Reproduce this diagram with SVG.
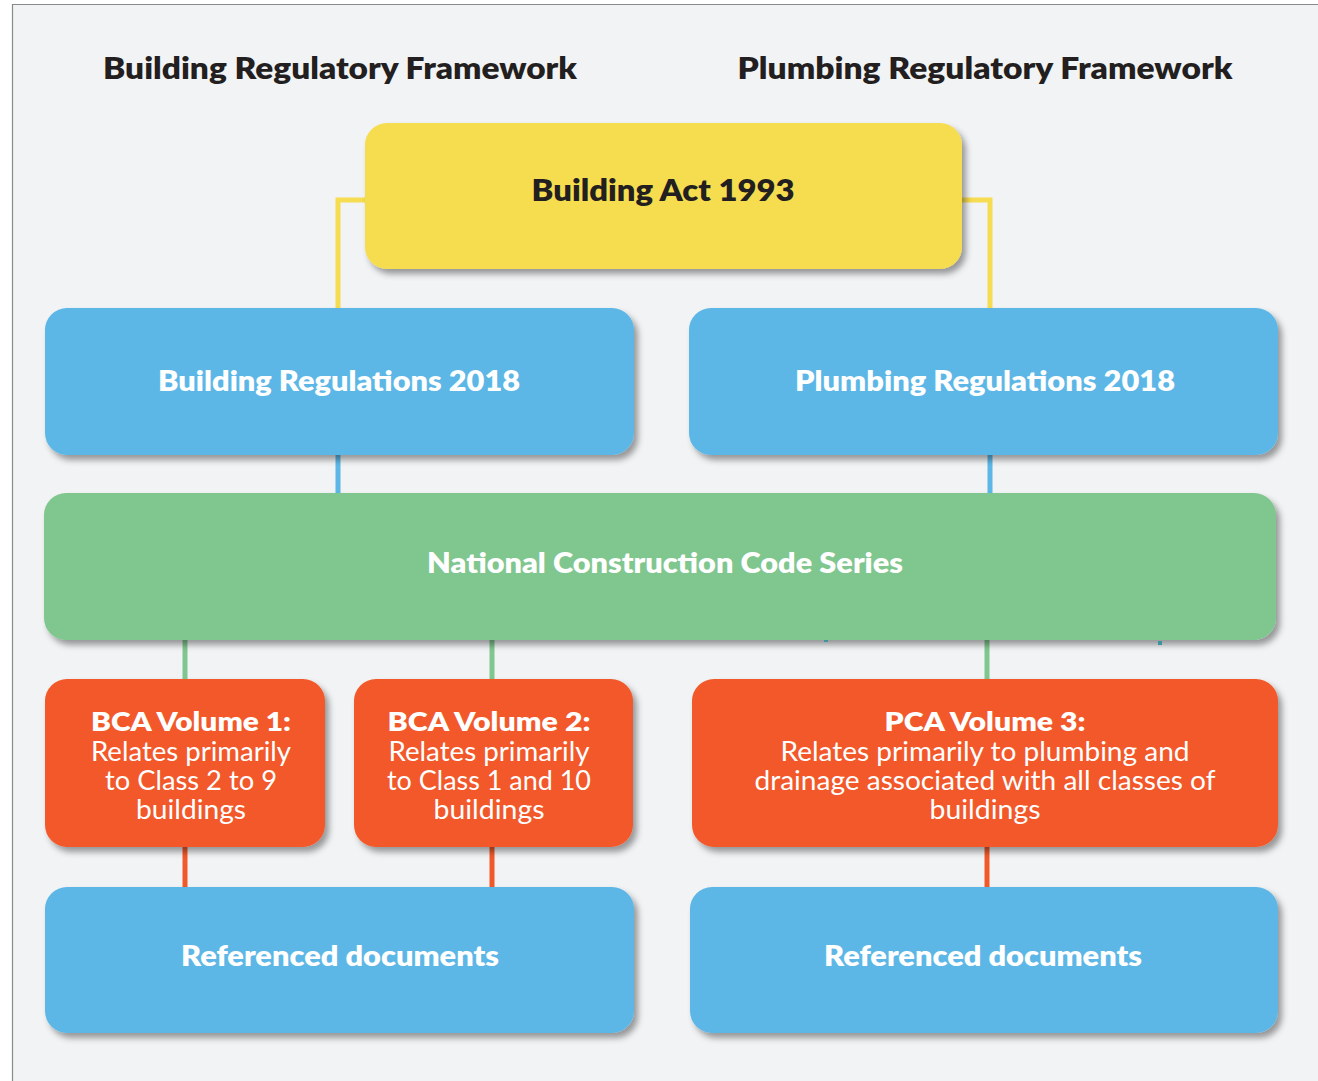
<svg xmlns="http://www.w3.org/2000/svg" width="1318" height="1081" viewBox="0 0 1318 1081">
  <defs>
    <filter id="shadow" x="-5%" y="-10%" width="115%" height="130%">
      <feDropShadow dx="4" dy="5" stdDeviation="3" flood-color="#000" flood-opacity="0.38"/>
    </filter>
  </defs>
  <style>
    .heading { font-family: Lato, "Open Sans", "Liberation Sans", sans-serif; font-weight: 800; fill: #231f20; text-anchor: middle; }
    .label { font-family: Lato, "Open Sans", "Liberation Sans", sans-serif; font-weight: 800; fill: #ffffff; text-anchor: middle; }
    .body { font-family: Lato, "Open Sans", "Liberation Sans", sans-serif; font-weight: 400; fill: #ffffff; text-anchor: middle; }
    .box { filter: url(#shadow); }
    .yellow { fill: #f6dc50; }
    .blue { fill: #5db7e6; }
    .green { fill: #80c68f; }
    .orange { fill: #f2592a; }
    .link { fill: none; stroke-width: 5; }
  </style>

  <!-- page -->
  <rect x="0" y="0" width="1318" height="1081" fill="#ffffff"/>
  <rect x="12" y="4" width="1306" height="1077" fill="#f2f3f5"/>
  <path d="M12.5 1081 V4.5 H1318" fill="none" stroke="#8a8a8a" stroke-width="1.2"/>

  <!-- column headings -->
  <text class="heading" x="340" y="79" font-size="30" textLength="474" lengthAdjust="spacingAndGlyphs">Building Regulatory Framework</text>
  <text class="heading" x="985" y="79" font-size="30" textLength="495" lengthAdjust="spacingAndGlyphs">Plumbing Regulatory Framework</text>

  <!-- connectors -->
  <g id="connectors">
    <path class="link" d="M370 200 H338 V309" stroke="#f6dc50"/>
    <path class="link" d="M958 200 H990 V309" stroke="#f6dc50"/>
    <path class="link" d="M338 450 V500" stroke="#5db7e6"/>
    <path class="link" d="M990 450 V494" stroke="#5db7e6"/>
    <path class="link" d="M185 636 V681" stroke="#80c68f"/>
    <path class="link" d="M492 636 V681" stroke="#80c68f"/>
    <path class="link" d="M987 636 V681" stroke="#80c68f"/>
    <path class="link" d="M185 843 V888" stroke="#f2592a"/>
    <path class="link" d="M492 843 V888" stroke="#f2592a"/>
    <path class="link" d="M987 843 V888" stroke="#f2592a"/>
  </g>

  <g id="building-act">
    <rect class="box yellow" x="365" y="123" width="597" height="146" rx="22"/>
    <text class="heading" x="663" y="201" font-size="30" textLength="263" lengthAdjust="spacingAndGlyphs">Building Act 1993</text>
  </g>

  <g id="building-regulations">
    <rect class="box blue" x="45" y="308" width="589" height="147" rx="22"/>
    <text class="label" x="339" y="391" font-size="28" textLength="362" lengthAdjust="spacingAndGlyphs">Building Regulations 2018</text>
  </g>

  <g id="plumbing-regulations">
    <rect class="box blue" x="689" y="308" width="589" height="147" rx="22"/>
    <text class="label" x="985" y="391" font-size="28" textLength="380" lengthAdjust="spacingAndGlyphs">Plumbing Regulations 2018</text>
  </g>

  <g id="ncc-series">
    <rect class="box green" x="44" y="493" width="1232" height="147" rx="22"/>
    <text class="label" x="665" y="573" font-size="28" textLength="476" lengthAdjust="spacingAndGlyphs">National Construction Code Series</text>
  </g>

  <!-- small stub ends showing below the code series box -->
  <g id="stubs">
    <rect x="824" y="640" width="4" height="2" fill="#3d93a0"/>
    <rect x="1158" y="641" width="4" height="4" fill="#3d93a0"/>
  </g>

  <g id="bca-volume-1">
    <rect class="box orange" x="45" y="679" width="280" height="168" rx="22"/>
    <text class="label" x="191" y="731" font-size="27" textLength="200" lengthAdjust="spacingAndGlyphs">BCA Volume 1:</text>
    <text class="body" x="191" y="761" font-size="26" textLength="200" lengthAdjust="spacingAndGlyphs">Relates primarily</text>
    <text class="body" x="191" y="790" font-size="26" textLength="172" lengthAdjust="spacingAndGlyphs">to Class 2 to 9</text>
    <text class="body" x="191" y="819" font-size="26" textLength="110" lengthAdjust="spacingAndGlyphs">buildings</text>
  </g>

  <g id="bca-volume-2">
    <rect class="box orange" x="354" y="679" width="279" height="168" rx="22"/>
    <text class="label" x="489" y="731" font-size="27" textLength="203" lengthAdjust="spacingAndGlyphs">BCA Volume 2:</text>
    <text class="body" x="489" y="761" font-size="26" textLength="201" lengthAdjust="spacingAndGlyphs">Relates primarily</text>
    <text class="body" x="489" y="790" font-size="26" textLength="204" lengthAdjust="spacingAndGlyphs">to Class 1 and 10</text>
    <text class="body" x="489" y="819" font-size="26" textLength="111" lengthAdjust="spacingAndGlyphs">buildings</text>
  </g>

  <g id="pca-volume-3">
    <rect class="box orange" x="692" y="679" width="586" height="168" rx="22"/>
    <text class="label" x="985" y="731" font-size="27" textLength="201" lengthAdjust="spacingAndGlyphs">PCA Volume 3:</text>
    <text class="body" x="985" y="761" font-size="26" textLength="409" lengthAdjust="spacingAndGlyphs">Relates primarily to plumbing and</text>
    <text class="body" x="985" y="790" font-size="26" textLength="461" lengthAdjust="spacingAndGlyphs">drainage associated with all classes of</text>
    <text class="body" x="985" y="819" font-size="26" textLength="111" lengthAdjust="spacingAndGlyphs">buildings</text>
  </g>

  <g id="referenced-documents-building">
    <rect class="box blue" x="45" y="887" width="589" height="146" rx="22"/>
    <text class="label" x="340" y="966" font-size="28" textLength="318" lengthAdjust="spacingAndGlyphs">Referenced documents</text>
  </g>

  <g id="referenced-documents-plumbing">
    <rect class="box blue" x="690" y="887" width="588" height="146" rx="22"/>
    <text class="label" x="983" y="966" font-size="28" textLength="318" lengthAdjust="spacingAndGlyphs">Referenced documents</text>
  </g>
</svg>
